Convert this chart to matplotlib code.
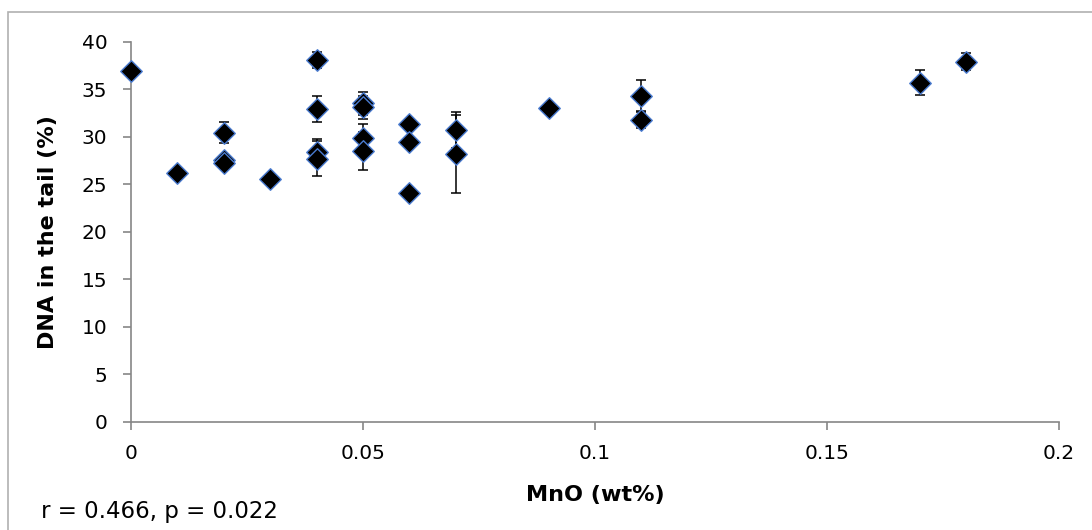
import matplotlib
matplotlib.use("Agg")
import matplotlib.pyplot as plt
from matplotlib.patches import Rectangle

plt.rcParams['font.family'] = ['DejaVu Sans']

# MnO content (wt%) and percentage of DNA in the comet tail, with error bars
mno = [0.00, 0.01, 0.02, 0.02, 0.02, 0.03,
       0.04, 0.04, 0.04, 0.04,
       0.05, 0.05, 0.05, 0.05,
       0.06, 0.06, 0.06,
       0.07, 0.07, 0.09,
       0.11, 0.11, 0.17, 0.18]
dna_tail = [36.9, 26.2, 30.4, 27.6, 27.2, 25.6,
            38.1, 32.9, 28.4, 27.7,
            33.5, 33.1, 29.9, 28.5,
            31.3, 29.4, 24.1,
            30.7, 28.2, 33.0,
            34.3, 31.8, 35.7, 37.9]
dna_err = [0.0, 0.3, 1.1, 0.5, 0.4, 0.0,
           0.85, 1.4, 1.4, 1.8,
           1.2, 1.2, 1.4, 2.0,
           0.0, 0.0, 0.0,
           1.9, 4.1, 0.0,
           1.7, 0.9, 1.3, 0.9]

x_ticks = [0, 0.05, 0.1, 0.15, 0.2]
x_tick_labels = ['0', '0.05', '0.1', '0.15', '0.2']
y_ticks = [0, 5, 10, 15, 20, 25, 30, 35, 40]

W, H = 1092, 530
fig = plt.figure(figsize=(W / 100, H / 100), dpi=100)
fig.patch.set_facecolor('white')

# chart-area frame
fig.patches.append(Rectangle((8 / W, -0.05), 1.2, 1 - 12 / H + 0.05,
                             transform=fig.transFigure, fill=False,
                             edgecolor='#b0b0b0', linewidth=1.2))

x0, x1, y0, y1 = 131, 1059, 421.7, 41.7
ax = fig.add_axes([x0 / W, (H - y0) / H, (x1 - x0) / W, (y0 - y1) / H])

ax.errorbar(mno, dna_tail, yerr=dna_err, fmt='none', ecolor='black',
            elinewidth=1.1, capsize=3.4, capthick=1.1, zorder=2,
            clip_on=False)
ax.scatter(mno, dna_tail, marker='D', s=120, facecolor='black',
           edgecolor='#4a7bd0', linewidth=1.0, zorder=3, clip_on=False)

ax.set_xlim(0, 0.2)
ax.set_ylim(0, 40)
ax.set_xticks(x_ticks)
ax.set_xticklabels(x_tick_labels)
ax.set_yticks(y_ticks)

for side in ('top', 'right'):
    ax.spines[side].set_visible(False)
for side in ('left', 'bottom'):
    ax.spines[side].set_color('#868686')
    ax.spines[side].set_linewidth(1.2)
    ax.spines[side].set_zorder(1)

ax.tick_params(axis='both', direction='out', length=6, width=1.2,
               color='#868686', labelsize=14.5, labelcolor='black')
ax.tick_params(axis='x', pad=10)
ax.tick_params(axis='y', pad=11)

ax.set_xlabel('MnO (wt%)', fontsize=16, fontweight='bold',
              va='center', ha='center')
ax.xaxis.set_label_coords(0.5, (y0 - 495) / (y0 - y1))
ax.set_ylabel('DNA in the tail (%)', fontsize=16, fontweight='bold',
              va='center', ha='center')
ax.yaxis.set_label_coords((48.5 - x0) / (x1 - x0), 0.5)

fig.text(41 / W, (H - 518.3) / H, 'r = 0.466, p = 0.022',
         fontsize=16.5, ha='left', va='baseline')

fig.savefig('out.png', dpi=100, facecolor='white')
